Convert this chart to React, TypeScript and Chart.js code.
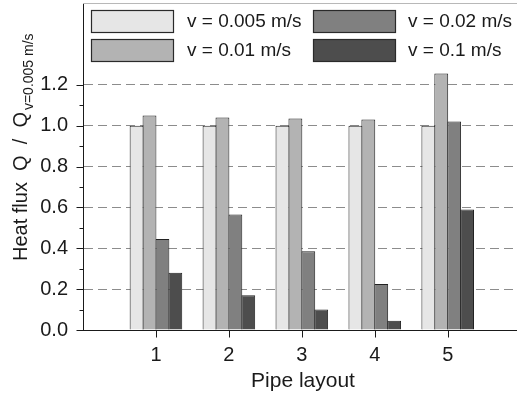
import React, { useEffect, useRef } from 'react';
import { Chart, registerables } from 'chart.js';

Chart.register(...registerables);

const layouts = ['1', '2', '3', '4', '5'];
const seriesLabels = ['v = 0.005 m/s', 'v = 0.01 m/s', 'v = 0.02 m/s', 'v = 0.1 m/s'];
const v0005 = [1.0, 1.0, 1.0, 1.0, 1.0];
const v001 = [1.05, 1.04, 1.035, 1.03, 1.255];
const v002 = [0.445, 0.565, 0.385, 0.225, 1.02];
const v01 = [0.28, 0.17, 0.1, 0.045, 0.59];
const yMajorTicks = [0, 0.2, 0.4, 0.6, 0.8, 1.0, 1.2];
const yMinorTicks = [0.1, 0.3, 0.5, 0.7, 0.9, 1.1];
const xTickValues = [1, 2, 3, 4, 5];
const xTitle = 'Pipe layout';
const yTitleMain = 'Heat flux  Q  /  Q';
const yTitleSub = 'v=0.005 m/s';

const fills = ['#e6e6e6', '#b3b3b3', '#808080', '#4d4d4d'];
const FONT = '"Liberation Sans", Arial, Helvetica, sans-serif';
const INK = '#1a1a1a';

const zeroPad = (s: any) => {
  s.paddingTop = 0;
  s.paddingBottom = 0;
  s.paddingLeft = 0;
  s.paddingRight = 0;
};

const decorPlugin = {
  id: 'decor',
  afterDraw(chart: any) {
    const { ctx, chartArea: a, scales } = chart;
    const xs = scales.x;
    const ys = scales.y;
    ctx.save();
    // top frame line
    ctx.strokeStyle = '#b8b8b8';
    ctx.lineWidth = 1;
    ctx.beginPath();
    ctx.moveTo(Math.round(a.left), Math.round(a.top) + 0.5);
    ctx.lineTo(a.right, Math.round(a.top) + 0.5);
    ctx.stroke();

    // y tick marks
    ctx.strokeStyle = INK;
    const ax = Math.round(a.left) + 0.5;
    ctx.beginPath();
    yMajorTicks.forEach((v) => {
      const py = Math.round(ys.getPixelForValue(v)) + 0.5;
      ctx.moveTo(ax - 7, py);
      ctx.lineTo(ax, py);
    });
    yMinorTicks.forEach((v) => {
      const py = Math.round(ys.getPixelForValue(v)) + 0.5;
      ctx.moveTo(ax - 4, py);
      ctx.lineTo(ax, py);
    });
    // x tick marks
    const by = Math.round(a.bottom) + 0.5;
    xTickValues.forEach((v) => {
      const px = Math.round(xs.getPixelForValue(v)) + 0.5;
      ctx.moveTo(px, by);
      ctx.lineTo(px, by + 7);
    });
    ctx.stroke();

    // x title
    ctx.fillStyle = INK;
    ctx.font = `21px ${FONT}`;
    ctx.textAlign = 'center';
    ctx.textBaseline = 'alphabetic';
    ctx.fillText(xTitle, (a.left + a.right) / 2 + 3, 387);

    // y title with subscript
    ctx.save();
    ctx.translate(27, 261);
    ctx.rotate(-Math.PI / 2);
    ctx.textAlign = 'left';
    ctx.font = `20px ${FONT}`;
    ctx.fillText(yTitleMain, 0, 0);
    const w = ctx.measureText(yTitleMain).width;
    ctx.font = `14px ${FONT}`;
    ctx.fillText(yTitleSub, w + 2, 6);
    ctx.restore();

    // legend (two columns)
    const order = [0, 1, 2, 3];
    ctx.font = `19px ${FONT}`;
    ctx.textAlign = 'left';
    ctx.textBaseline = 'middle';
    order.forEach((di, k) => {
      const ds = chart.data.datasets[di];
      const col = Math.floor(k / 2);
      const row = k % 2;
      const bx = Math.round(a.left) + 8 + col * 222;
      const bY = Math.round(a.top) + 7 + row * 29;
      ctx.fillStyle = ds.backgroundColor;
      ctx.fillRect(bx, bY, 82, 22);
      ctx.strokeStyle = '#2a2a2a';
      ctx.lineWidth = 1.2;
      ctx.strokeRect(bx + 0.5, bY + 0.5, 82, 22);
      ctx.fillStyle = INK;
      ctx.fillText(ds.label, bx + 96 - col * 1, bY + 12);
    });
    ctx.restore();
  },
};

export default function App() {
  const ref = useRef<HTMLCanvasElement | null>(null);

  useEffect(() => {
    if (!ref.current) return;
    const series = [v0005, v001, v002, v01];
    const chart = new Chart(ref.current, {
      type: 'bar',
      data: {
        datasets: series.map((vals, i) => ({
          label: seriesLabels[i],
          data: layouts.map((l, j) => ({ x: Number(l), y: vals[j] })),
          backgroundColor: fills[i],
          borderColor: '#222222',
          borderWidth: 1,
          borderSkipped: 'bottom',
          barPercentage: 1.075,
          categoryPercentage: 0.745,
        })),
      },
      options: {
        animation: false,
        responsive: true,
        maintainAspectRatio: false,
        layout: { padding: { top: 3, right: 0, left: 0, bottom: 0 } },
        plugins: {
          legend: { display: false },
          tooltip: { enabled: false },
          title: { display: false },
        },
        scales: {
          x: {
            type: 'linear',
            min: 0,
            max: 5.95,
            offset: false,
            grid: { display: false, drawTicks: false, offset: false },
            border: { display: true, color: INK, width: 1 },
            afterFit: (s: any) => {
              s.height = 71;
              zeroPad(s);
            },
            ticks: {
              stepSize: 1,
              autoSkip: false,
              padding: 13,
              color: INK,
              font: { family: FONT, size: 20 },
              callback: (v: any) => {
                const idx = Math.round(Number(v)) - 1;
                return idx >= 0 && idx < layouts.length ? layouts[idx] : '';
              },
            },
          },
          y: {
            type: 'linear',
            min: 0,
            max: 1.6,
            afterFit: (s: any) => {
              s.width = 83;
              zeroPad(s);
            },
            grid: {
              drawTicks: false,
              lineWidth: 1,
              color: (c: any) => {
                const v = c.tick ? c.tick.value : 0;
                return v > 0.1 && v < 1.3 ? '#8c8c8c' : 'rgba(0,0,0,0)';
              },
            },
            border: { display: true, color: INK, width: 1, dash: [9, 5] },
            ticks: {
              stepSize: 0.2,
              autoSkip: false,
              maxTicksLimit: 100,
              padding: 15,
              color: INK,
              font: { family: FONT, size: 20 },
              callback: (v: any) => {
                const n = Math.round(Number(v) * 10);
                return n <= 12 ? (n / 10).toFixed(1) : '';
              },
            },
          },
        },
      },
      plugins: [decorPlugin],
    } as any);
    return () => chart.destroy();
  }, []);

  return (
    <div style={{ position: 'fixed', left: 0, top: 0, width: 517, height: 401, background: '#fff' }}>
      <canvas ref={ref} />
    </div>
  );
}
